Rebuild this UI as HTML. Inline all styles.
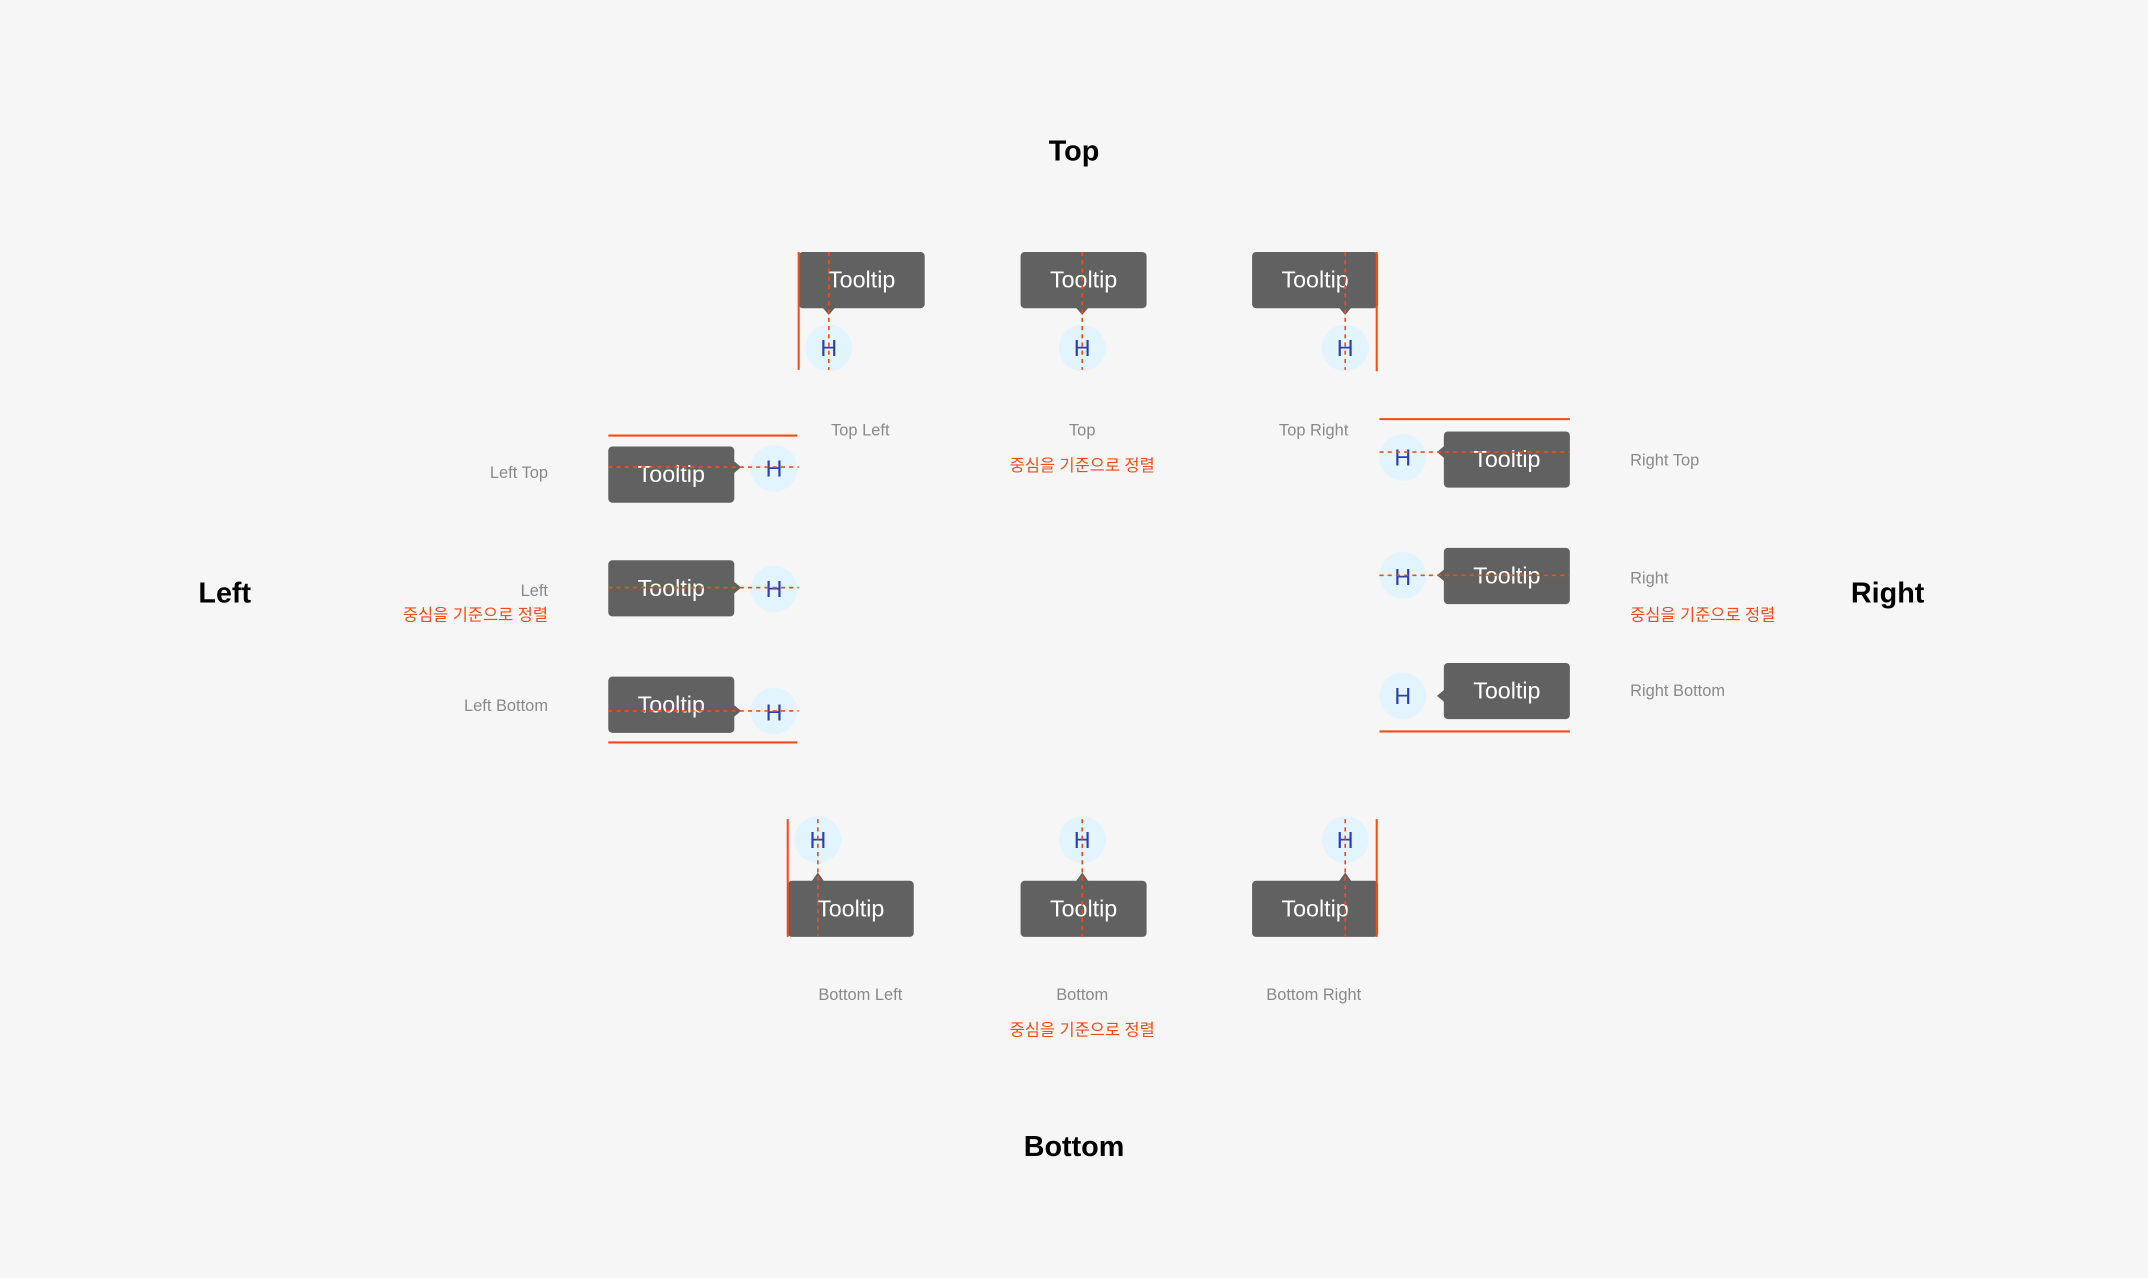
<!DOCTYPE html>
<html><head><meta charset="utf-8"><style>
html,body{margin:0;padding:0;background:#f6f6f6;}
svg{display:block}
text{font-family:"Liberation Sans","Noto Sans CJK KR",sans-serif;}
.t{fill:#fff;font-size:17px;text-anchor:middle}
.h{fill:#2c3eb0;font-size:17px;text-anchor:middle}
.g{fill:#8a8a8a;font-size:12px}
.r{fill:#fa4a14;font-size:12px}
.b{fill:#000;font-size:21px;font-weight:bold;text-anchor:middle}
.box{fill:#616161}
.c{fill:#e2f4fd}
.sl{stroke:#fa4a14;stroke-width:1.5}
.dl{stroke:#fa4a14;stroke-width:1.2;stroke-dasharray:3,3}
</style></head><body>
<svg width="2148" height="1278" viewBox="0 0 1568 933" xmlns="http://www.w3.org/2000/svg">
<rect width="1568" height="933" fill="#f6f6f6"/>
<text class="b" x="784" y="117">Top</text>
<text class="b" x="784" y="844">Bottom</text>
<text class="b" x="164" y="440">Left</text>
<text class="b" x="1378" y="440">Right</text>

<!-- Top row -->
<g>
<circle class="c" cx="605" cy="254" r="17"/><circle class="c" cx="790" cy="254" r="17"/><circle class="c" cx="982" cy="254" r="17"/>
<text class="h" x="605" y="260">H</text><text class="h" x="790" y="260">H</text><text class="h" x="982" y="260">H</text>
<rect class="box" x="583" y="184" width="92" height="41" rx="3"/><polygon class="box" points="600,224 610,224 605,230"/>
<rect class="box" x="745" y="184" width="92" height="41" rx="3"/><polygon class="box" points="785,224 795,224 790,230"/>
<rect class="box" x="914" y="184" width="92" height="41" rx="3"/><polygon class="box" points="977,224 987,224 982,230"/>
<text class="t" x="629" y="210">Tooltip</text><text class="t" x="791" y="210">Tooltip</text><text class="t" x="960" y="210">Tooltip</text>
<line class="sl" x1="583" y1="184" x2="583" y2="270"/><line class="sl" x1="1005" y1="184" x2="1005" y2="271"/>
<line class="dl" x1="605" y1="184" x2="605" y2="270"/><line class="dl" x1="790" y1="184" x2="790" y2="270"/><line class="dl" x1="982" y1="184" x2="982" y2="270"/>
<text class="g" x="628" y="318" text-anchor="middle">Top Left</text>
<text class="g" x="790" y="318" text-anchor="middle">Top</text>
<text class="g" x="959" y="318" text-anchor="middle">Top Right</text>
<text class="r" x="790" y="344" text-anchor="middle">중심을 기준으로 정렬</text>
</g>

<!-- Left column -->
<g>
<circle class="c" cx="565" cy="342" r="17"/><circle class="c" cx="565" cy="430" r="17"/><circle class="c" cx="565" cy="519" r="17"/>
<text class="h" x="565" y="348">H</text><text class="h" x="565" y="436">H</text><text class="h" x="565" y="526">H</text>
<rect class="box" x="444" y="326" width="92" height="41" rx="3"/><polygon class="box" points="535,336 535,346 541,341"/>
<rect class="box" x="444" y="409" width="92" height="41" rx="3"/><polygon class="box" points="535,424 535,434 541,429"/>
<rect class="box" x="444" y="494" width="92" height="41" rx="3"/><polygon class="box" points="535,514 535,524 541,519"/>
<text class="t" x="490" y="352">Tooltip</text><text class="t" x="490" y="435">Tooltip</text><text class="t" x="490" y="520">Tooltip</text>
<line class="sl" x1="444" y1="318" x2="582" y2="318"/><line class="sl" x1="444" y1="542" x2="582" y2="542"/>
<line class="dl" x1="444" y1="341" x2="583" y2="341"/><line class="dl" x1="444" y1="429" x2="583" y2="429"/><line class="dl" x1="444" y1="519" x2="583" y2="519"/>
<text class="g" x="400" y="349" text-anchor="end">Left Top</text>
<text class="g" x="400" y="435" text-anchor="end">Left</text>
<text class="r" x="400" y="453" text-anchor="end">중심을 기준으로 정렬</text>
<text class="g" x="400" y="519" text-anchor="end">Left Bottom</text>
</g>

<!-- Right column -->
<g>
<circle class="c" cx="1024" cy="334" r="17"/><circle class="c" cx="1024" cy="420" r="17"/><circle class="c" cx="1024" cy="508" r="17"/>
<text class="h" x="1024" y="340">H</text><text class="h" x="1024" y="427">H</text><text class="h" x="1024" y="514">H</text>
<rect class="box" x="1054" y="315" width="92" height="41" rx="3"/><polygon class="box" points="1055,325 1055,335 1049,330"/>
<rect class="box" x="1054" y="400" width="92" height="41" rx="3"/><polygon class="box" points="1055,415 1055,425 1049,420"/>
<rect class="box" x="1054" y="484" width="92" height="41" rx="3"/><polygon class="box" points="1055,503 1055,513 1049,508"/>
<text class="t" x="1100" y="341">Tooltip</text><text class="t" x="1100" y="426">Tooltip</text><text class="t" x="1100" y="510">Tooltip</text>
<line class="sl" x1="1007" y1="306" x2="1146" y2="306"/><line class="sl" x1="1007" y1="534" x2="1146" y2="534"/>
<line class="dl" x1="1007" y1="330" x2="1146" y2="330"/><line class="dl" x1="1007" y1="420" x2="1146" y2="420"/>
<text class="g" x="1190" y="340">Right Top</text>
<text class="g" x="1190" y="426">Right</text>
<text class="r" x="1190" y="453">중심을 기준으로 정렬</text>
<text class="g" x="1190" y="508">Right Bottom</text>
</g>

<!-- Bottom row -->
<g>
<circle class="c" cx="597" cy="613" r="17"/><circle class="c" cx="790" cy="613" r="17"/><circle class="c" cx="982" cy="613" r="17"/>
<text class="h" x="597" y="619">H</text><text class="h" x="790" y="619">H</text><text class="h" x="982" y="619">H</text>
<rect class="box" x="575" y="643" width="92" height="41" rx="3"/><polygon class="box" points="592,644 602,644 597,637"/>
<rect class="box" x="745" y="643" width="92" height="41" rx="3"/><polygon class="box" points="785,644 795,644 790,637"/>
<rect class="box" x="914" y="643" width="92" height="41" rx="3"/><polygon class="box" points="977,644 987,644 982,637"/>
<text class="t" x="621" y="669">Tooltip</text><text class="t" x="791" y="669">Tooltip</text><text class="t" x="960" y="669">Tooltip</text>
<line class="sl" x1="575" y1="598" x2="575" y2="684"/><line class="sl" x1="1005" y1="598" x2="1005" y2="684"/>
<line class="dl" x1="597" y1="598" x2="597" y2="684"/><line class="dl" x1="790" y1="598" x2="790" y2="684"/><line class="dl" x1="982" y1="598" x2="982" y2="684"/>
<text class="g" x="628" y="730" text-anchor="middle">Bottom Left</text>
<text class="g" x="790" y="730" text-anchor="middle">Bottom</text>
<text class="g" x="959" y="730" text-anchor="middle">Bottom Right</text>
<text class="r" x="790" y="756" text-anchor="middle">중심을 기준으로 정렬</text>
</g>
</svg>
</body></html>
